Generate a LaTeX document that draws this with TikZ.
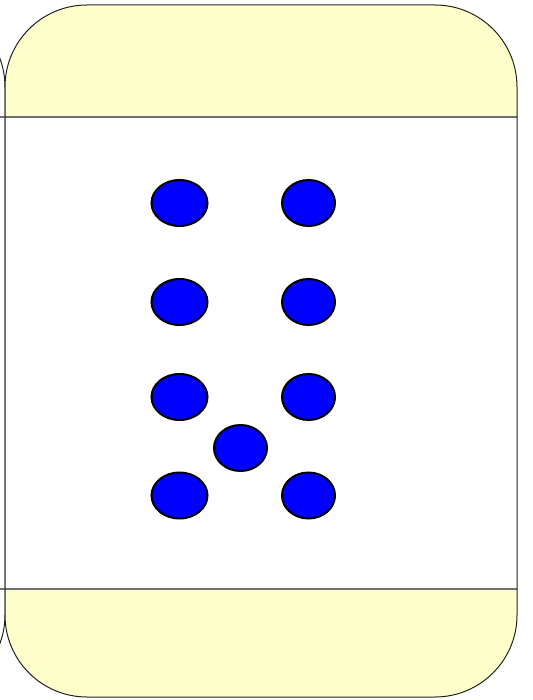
\documentclass[tikz,border=0pt]{standalone}
\usetikzlibrary{shapes.geometric}
\definecolor{bandyellow}{HTML}{FFFFCC}
\definecolor{bandline}{HTML}{707070}
\definecolor{edgecol}{HTML}{222222}
\definecolor{dotblue}{HTML}{0000FF}
\tikzset{
  dotnode/.style={ellipse, draw=black, fill=dotblue, line width=2pt, inner sep=0pt, minimum height=46pt},
  dotwide/.style={dotnode, minimum width=56pt},
  dotnarrow/.style={dotnode, minimum width=53pt},
  outline/.style={draw=edgecol, line width=1pt, rounded corners=82pt},
  bandsep/.style={draw=bandline, line width=1.4pt}
}
\begin{document}
\begin{tikzpicture}[x=1pt,y=-1pt]
\useasboundingbox (0,0) rectangle (532,700);
% neighbouring shape, cut at the left edge
\begin{scope}
\clip (0,0) rectangle (532,700);
\draw[outline] (-700,5) rectangle (5,697);
\end{scope}
% main card
\fill[bandyellow, rounded corners=82pt] (5,5) rectangle (517,697);
\fill[white] (5,117) rectangle (517,589);
\draw[bandsep] (0,117) -- (517,117);
\draw[bandsep] (0,589) -- (517,589);
\draw[outline] (5,5) rectangle (517,697);
% dots
\node[dotwide] (a1) at (179.5,203) {};
\node[dotnarrow] (b1) at (308.5,203) {};
\node[dotwide] (a2) at (179.5,302) {};
\node[dotnarrow] (b2) at (308.5,302) {};
\node[dotwide] (a3) at (179.5,397) {};
\node[dotnarrow] (b3) at (308.5,397) {};
\node[dotnarrow] (c) at (240.5,448) {};
\node[dotwide] (a4) at (179.5,495.5) {};
\node[dotnarrow] (b4) at (308.5,495.5) {};
\end{tikzpicture}
\end{document}
